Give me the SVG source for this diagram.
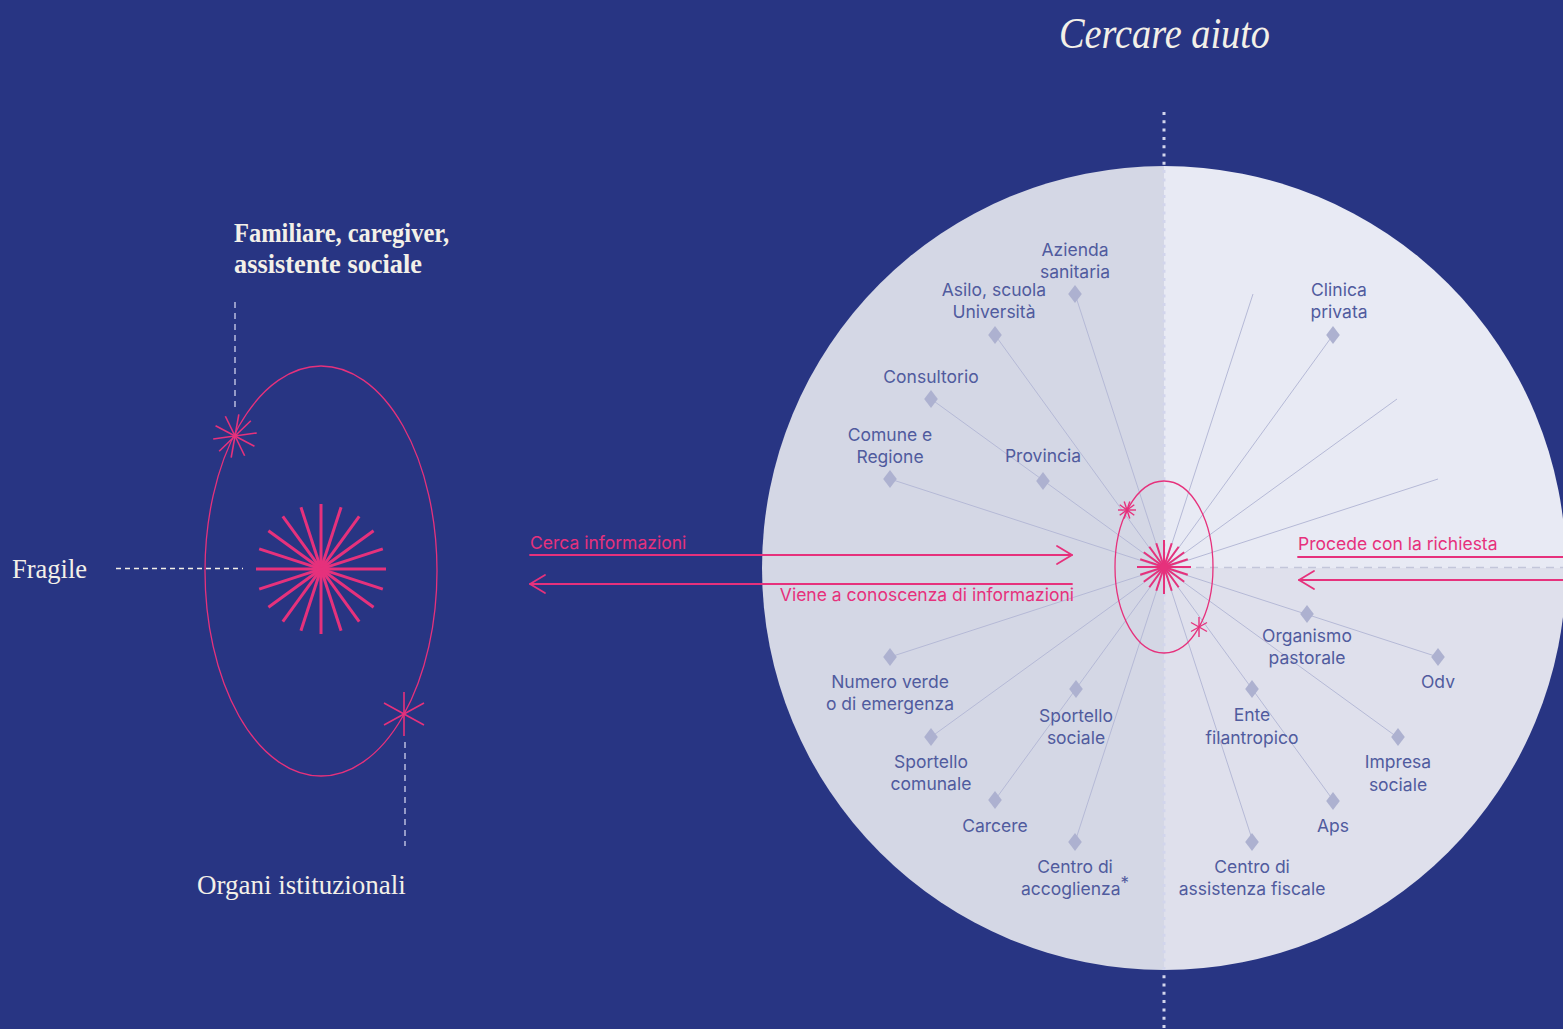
<svg xmlns="http://www.w3.org/2000/svg" xmlns:xlink="http://www.w3.org/1999/xlink" width="1563" height="1029" viewBox="0 0 1563 1029">
<style>
.serif{font-family:"Liberation Serif","DejaVu Serif",serif;fill:#f3f0e8}
.lbl{font-family:Inter,"Liberation Sans",sans-serif;font-size:17.5px;fill:#505b9e;text-anchor:middle}
.pk{font-family:Inter,"Liberation Sans",sans-serif;font-size:17.5px;fill:#e6317c}
.spoke{stroke:#b5b9d6;stroke-width:1;fill:none}
.pline{stroke:#e6317c;stroke-width:1.8;fill:none;stroke-linecap:round;stroke-linejoin:round}
.ray{stroke:#e6317c;fill:none;stroke-linecap:butt}
.dm{fill:#adb1d0}
</style>
<defs>
<path id="dm" d="M0,-9 L6.8,0 L0,9 L-6.8,0 Z"/>
</defs>
<rect width="1563" height="1029" fill="#283583"/>

<!-- big circle -->
<g id="circle">
<path d="M1164,166 A402,402 0 0 0 1164,970 Z" fill="#d4d7e5"/>
<path d="M1164,568 L1164,166 A402,402 0 0 1 1566,568 Z" fill="#e8eaf4"/>
<path d="M1164,568 L1566,568 A402,402 0 0 1 1164,970 Z" fill="#dfe0ec"/>
</g>

<!-- axis lines -->
<g id="axes">
<line x1="1164" y1="112" x2="1164" y2="1029" stroke="#d2d5ec" stroke-width="3" stroke-dasharray="3 5.3"/>
<line x1="1168" y1="567.5" x2="1563" y2="567.5" stroke="#c3c6da" stroke-width="1.3" stroke-dasharray="8 6"/>
</g>

<!-- connectors -->
<g id="connectors">
<g class="spoke">
<line x1="1164" y1="568" x2="890" y2="479"/>
<line x1="1164" y1="568" x2="931" y2="399"/>
<line x1="1164" y1="568" x2="995" y2="335"/>
<line x1="1164" y1="568" x2="1075" y2="294"/>
<line x1="1164" y1="568" x2="1253" y2="294"/>
<line x1="1164" y1="568" x2="1333" y2="335"/>
<line x1="1164" y1="568" x2="1397" y2="399"/>
<line x1="1164" y1="568" x2="1438" y2="479"/>
<line x1="1164" y1="568" x2="890" y2="657"/>
<line x1="1164" y1="568" x2="931" y2="737"/>
<line x1="1164" y1="568" x2="995" y2="800"/>
<line x1="1164" y1="568" x2="1075" y2="842"/>
<line x1="1164" y1="568" x2="1253" y2="842"/>
<line x1="1164" y1="568" x2="1333" y2="800"/>
<line x1="1164" y1="568" x2="1397" y2="737"/>
<line x1="1164" y1="568" x2="1438" y2="657"/>
</g>
<!-- dashed guides left -->
<line x1="235" y1="302" x2="235" y2="407" stroke="#b9bde0" stroke-width="1.5" stroke-dasharray="6 5"/>
<line x1="405" y1="742" x2="405" y2="846" stroke="#b9bde0" stroke-width="1.5" stroke-dasharray="6 5"/>
<line x1="116" y1="568.5" x2="243" y2="568.5" stroke="#f3f0e8" stroke-width="1.3" stroke-dasharray="5 4"/>
<!-- arrows -->
<g id="arrow-cerca">
<line class="pline" x1="530" y1="555" x2="1072" y2="555"/>
<polyline class="pline" points="1057,546 1072,555 1057,564"/>
</g>
<g id="arrow-viene">
<line class="pline" x1="530" y1="584" x2="1072" y2="584"/>
<polyline class="pline" points="545,575 530,584 545,593"/>
</g>
<g id="arrow-procede">
<line class="pline" x1="1298" y1="557" x2="1563" y2="557"/>
<line class="pline" x1="1299" y1="580" x2="1563" y2="580"/>
<polyline class="pline" points="1314,571 1299,580 1314,589"/>
</g>
</g>

<!-- title -->
<text class="serif" x="1059" y="48" font-size="45" font-style="italic" textLength="211" lengthAdjust="spacingAndGlyphs">Cercare aiuto</text>

<!-- left side -->
<g id="left-ellipse">
<ellipse cx="321" cy="571" rx="116" ry="205" fill="none" stroke="#e6317c" stroke-width="1.3"/>
</g>
<g id="fragile">
<g class="ray" stroke-width="3" transform="translate(321,569)">
<line x1="-65" y1="0" x2="65" y2="0"/>
<line x1="-65" y1="0" x2="65" y2="0" transform="rotate(18)"/>
<line x1="-65" y1="0" x2="65" y2="0" transform="rotate(36)"/>
<line x1="-65" y1="0" x2="65" y2="0" transform="rotate(54)"/>
<line x1="-65" y1="0" x2="65" y2="0" transform="rotate(72)"/>
<line x1="-65" y1="0" x2="65" y2="0" transform="rotate(90)"/>
<line x1="-65" y1="0" x2="65" y2="0" transform="rotate(108)"/>
<line x1="-65" y1="0" x2="65" y2="0" transform="rotate(126)"/>
<line x1="-65" y1="0" x2="65" y2="0" transform="rotate(144)"/>
<line x1="-65" y1="0" x2="65" y2="0" transform="rotate(162)"/>
</g>
<text class="serif" x="12" y="578" font-size="26.5">Fragile</text>
</g>
<g id="familiare">
<g class="ray" stroke-width="1.6" transform="translate(235,436)">
<line x1="-22" y1="0" x2="22" y2="0" transform="rotate(-8)"/>
<line x1="-22" y1="0" x2="22" y2="0" transform="rotate(28)"/>
<line x1="-22" y1="0" x2="22" y2="0" transform="rotate(64)"/>
<line x1="-22" y1="0" x2="22" y2="0" transform="rotate(100)"/>
<line x1="-22" y1="0" x2="22" y2="0" transform="rotate(136)"/>
</g>
<text class="serif" x="234" y="242" font-size="26.5" font-weight="bold" textLength="215" lengthAdjust="spacingAndGlyphs">Familiare, caregiver,</text>
<text class="serif" x="234" y="273" font-size="26.5" font-weight="bold" textLength="188" lengthAdjust="spacingAndGlyphs">assistente sociale</text>
</g>
<g id="organi">
<g class="ray" stroke-width="1.6" transform="translate(404,714)">
<line x1="0" y1="-22" x2="0" y2="22"/>
<line x1="-20" y1="-11" x2="20" y2="11"/>
<line x1="-20" y1="11" x2="20" y2="-11"/>
</g>
<text class="serif" x="197" y="894" font-size="27">Organi istituzionali</text>
</g>

<!-- center -->
<g id="center">
<ellipse cx="1164" cy="567" rx="49" ry="86" fill="none" stroke="#e6317c" stroke-width="1.3"/>
<g class="ray" stroke-width="2" transform="translate(1164,567)">
<line x1="-27" y1="0" x2="27" y2="0"/>
<line x1="-25" y1="0" x2="25" y2="0" transform="rotate(18)"/>
<line x1="-25" y1="0" x2="25" y2="0" transform="rotate(36)"/>
<line x1="-25" y1="0" x2="25" y2="0" transform="rotate(54)"/>
<line x1="-25" y1="0" x2="25" y2="0" transform="rotate(72)"/>
<line x1="-27" y1="0" x2="27" y2="0" transform="rotate(90)"/>
<line x1="-25" y1="0" x2="25" y2="0" transform="rotate(108)"/>
<line x1="-25" y1="0" x2="25" y2="0" transform="rotate(126)"/>
<line x1="-25" y1="0" x2="25" y2="0" transform="rotate(144)"/>
<line x1="-25" y1="0" x2="25" y2="0" transform="rotate(162)"/>
</g>
<circle cx="1164" cy="567" r="4" fill="#e6317c"/>
<g class="ray" stroke-width="1.4" transform="translate(1127,510)">
<line x1="-9" y1="0" x2="9" y2="0"/>
<line x1="-9" y1="0" x2="9" y2="0" transform="rotate(36)"/>
<line x1="-9" y1="0" x2="9" y2="0" transform="rotate(72)"/>
<line x1="-9" y1="0" x2="9" y2="0" transform="rotate(108)"/>
<line x1="-9" y1="0" x2="9" y2="0" transform="rotate(144)"/>
</g>
<g class="ray" stroke-width="1.4" transform="translate(1199,627)">
<line x1="0" y1="-10" x2="0" y2="10"/>
<line x1="-8" y1="-4.5" x2="8" y2="4.5"/>
<line x1="-8" y1="4.5" x2="8" y2="-4.5"/>
</g>
</g>

<!-- arrow labels -->
<text class="pk" x="530" y="549">Cerca informazioni</text>
<text class="pk" x="1074" y="601" text-anchor="end">Viene a conoscenza di informazioni</text>
<text class="pk" x="1298" y="550">Procede con la richiesta</text>

<!-- nodes -->
<g id="n-azienda"><use href="#dm" class="dm" x="1075" y="294"/><text class="lbl" x="1075" y="256">Azienda</text><text class="lbl" x="1075" y="278">sanitaria</text></g>
<g id="n-asilo"><use href="#dm" class="dm" x="995" y="335"/><text class="lbl" x="994" y="296">Asilo, scuola</text><text class="lbl" x="994" y="318">Università</text></g>
<g id="n-consultorio"><use href="#dm" class="dm" x="931" y="399"/><text class="lbl" x="931" y="383">Consultorio</text></g>
<g id="n-comune"><use href="#dm" class="dm" x="890" y="479"/><text class="lbl" x="890" y="441">Comune e</text><text class="lbl" x="890" y="463">Regione</text></g>
<g id="n-provincia"><use href="#dm" class="dm" x="1043" y="481"/><text class="lbl" x="1043" y="462">Provincia</text></g>
<g id="n-clinica"><use href="#dm" class="dm" x="1333" y="335"/><text class="lbl" x="1339" y="296">Clinica</text><text class="lbl" x="1339" y="318">privata</text></g>
<g id="n-numero"><use href="#dm" class="dm" x="890" y="657"/><text class="lbl" x="890" y="688">Numero verde</text><text class="lbl" x="890" y="710">o di emergenza</text></g>
<g id="n-sportello-comunale"><use href="#dm" class="dm" x="931" y="737"/><text class="lbl" x="931" y="768">Sportello</text><text class="lbl" x="931" y="790">comunale</text></g>
<g id="n-sportello-sociale"><use href="#dm" class="dm" x="1076" y="689"/><text class="lbl" x="1076" y="722">Sportello</text><text class="lbl" x="1076" y="744">sociale</text></g>
<g id="n-carcere"><use href="#dm" class="dm" x="995" y="800"/><text class="lbl" x="995" y="832">Carcere</text></g>
<g id="n-accoglienza"><use href="#dm" class="dm" x="1075" y="842"/><text class="lbl" x="1075" y="873">Centro di</text><text class="lbl" x="1075" y="895">accoglienza<tspan font-size="17" dy="-6">*</tspan></text></g>
<g id="n-organismo"><use href="#dm" class="dm" x="1307" y="614"/><text class="lbl" x="1307" y="642">Organismo</text><text class="lbl" x="1307" y="664">pastorale</text></g>
<g id="n-odv"><use href="#dm" class="dm" x="1438" y="657"/><text class="lbl" x="1438" y="688">Odv</text></g>
<g id="n-ente"><use href="#dm" class="dm" x="1252" y="689"/><text class="lbl" x="1252" y="721">Ente</text><text class="lbl" x="1252" y="744">filantropico</text></g>
<g id="n-impresa"><use href="#dm" class="dm" x="1398" y="737"/><text class="lbl" x="1398" y="768">Impresa</text><text class="lbl" x="1398" y="791">sociale</text></g>
<g id="n-aps"><use href="#dm" class="dm" x="1333" y="801"/><text class="lbl" x="1333" y="832">Aps</text></g>
<g id="n-fiscale"><use href="#dm" class="dm" x="1252" y="842"/><text class="lbl" x="1252" y="873">Centro di</text><text class="lbl" x="1252" y="895">assistenza fiscale</text></g>
</svg>
